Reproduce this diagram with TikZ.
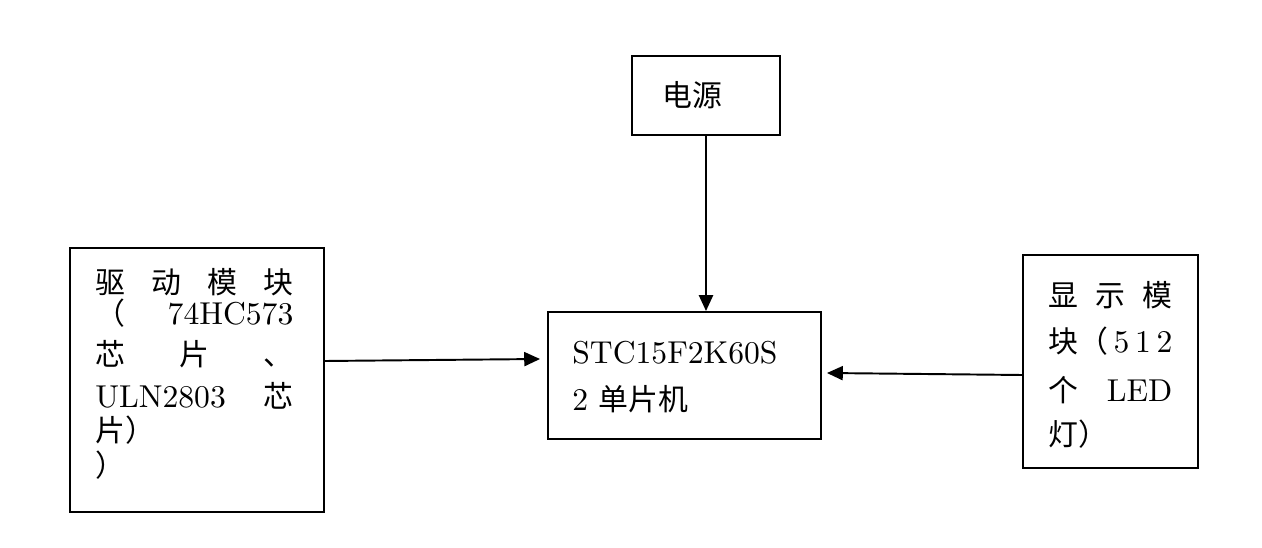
\documentclass[tikz,border=0pt]{standalone}
\usepackage{fontspec}
\setmainfont{lmroman10-regular.otf}
\newfontfamily\cjk{Noto Sans CJK SC}[Scale=0.945]
\usetikzlibrary{arrows.meta}

\tikzset{
  blk/.style={draw, line width=1.1pt, inner sep=0pt},
  txt/.style={anchor=base west, inner sep=0pt, font=\fontsize{18}{22}\selectfont},
  arr/.style={-{Triangle[length=9pt,width=8pt]}, line width=1.1pt}
}

\begin{document}
\begin{tikzpicture}
  \useasboundingbox (0,0) rectangle (25.24,10.94);
  % blocks
  \node[blk, minimum width=2.96cm, minimum height=1.58cm] (pwr) at (14.12,9.03) {};
  \node[blk, minimum width=5.46cm, minimum height=2.54cm] (mcu) at (13.69,3.43) {};
  \node[blk, minimum width=5.08cm, minimum height=5.28cm] (drv) at (3.94,3.34) {};
  \node[blk, minimum width=3.50cm, minimum height=4.26cm] (disp) at (22.21,3.71) {};

  % power
  \node[txt] (pwrA) at (13.24,8.80) {\cjk 电源};

  % mcu
  \node[txt] (mcuA) at (11.44,3.68) {STC15F2K60S};
  \node[txt] (mcuB) at (11.44,2.74) {2 {\cjk 单片机}};

  % driver module
  \node[txt, text width=3.96cm] (drvA) at (1.90,5.06) {{\cjk 驱}\hfill{\cjk 动}\hfill{\cjk 模}\hfill{\cjk 块}};
  \node[txt, text width=3.96cm] (drvB) at (1.90,4.44) {{\cjk （}\hfill 74HC573};
  \node[txt, text width=3.96cm] (drvC) at (1.90,3.64) {{\cjk 芯}\hfill{\cjk 片}\hfill{\cjk 、}};
  \node[txt, text width=3.96cm] (drvD) at (1.90,2.80) {ULN2803\hfill{\cjk 芯}};
  \node[txt] (drvE) at (1.90,2.12) {\cjk 片）};
  \node[txt] (drvF) at (1.90,1.42) {\cjk ）};

  % display module
  \node[txt, text width=2.48cm] (dispA) at (20.96,4.80) {{\cjk 显}\hfill{\cjk 示}\hfill{\cjk 模}};
  \node[txt, text width=2.48cm] (dispB) at (20.96,3.88) {{\cjk 块（}\hfill 5\hfill 1\hfill 2};
  \node[txt, text width=2.48cm] (dispC) at (20.96,2.90) {{\cjk 个}\hfill LED};
  \node[txt] (dispD) at (20.96,2.04) {\cjk 灯）};

  % connections
  \draw[arr] (pwr.south) -- (pwr.south |- mcu.north);
  \draw[arr] ([yshift=0.38cm]drv.east) -- ([xshift=-0.14cm,yshift=0.33cm]mcu.west);
  \draw[arr] ([yshift=-0.27cm]disp.west) -- ([xshift=0.10cm,yshift=0.05cm]mcu.east);
\end{tikzpicture}
\end{document}
